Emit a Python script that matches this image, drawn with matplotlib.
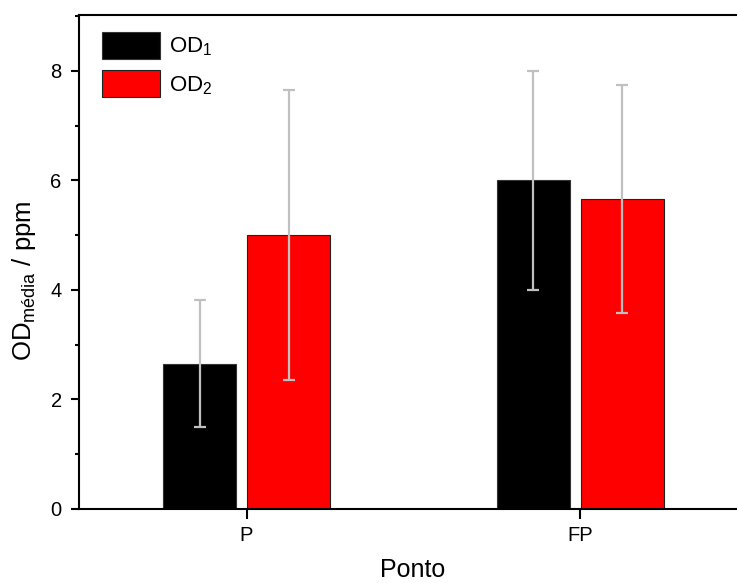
import matplotlib
matplotlib.use("Agg")
import matplotlib.pyplot as plt
from matplotlib.patches import Patch
from matplotlib.ticker import MultipleLocator
import numpy as np

plt.rcParams['font.family'] = ['Liberation Sans', 'DejaVu Sans']
plt.rcParams['mathtext.fontset'] = 'custom'
plt.rcParams['mathtext.rm'] = 'Liberation Sans'
plt.rcParams['mathtext.it'] = 'Liberation Sans:italic'

categories = ['P', 'FP']
od1 = [2.65, 6.0]
od1_err = [1.16, 2.0]
od2 = [5.0, 5.66]
od2_err = [2.65, 2.08]
series_labels = [r'$\mathregular{OD_1}$', r'$\mathregular{OD_2}$']

fig = plt.figure(figsize=(7.37, 5.83), dpi=100)
ax = fig.add_axes([79/737, 74/583, 668/737, 494/583])

x = np.arange(len(categories))
err_kw = dict(ecolor='#c0c0c0', elinewidth=1.6, capsize=4.5, capthick=1.6)
ax.bar(x - 0.14, od1, width=0.22, color='black', edgecolor='#333333', linewidth=0.8,
       yerr=od1_err, error_kw=err_kw, zorder=2)
ax.bar(x + 0.126, od2, width=0.25, color='#ff0000', edgecolor='#222222', linewidth=0.8,
       yerr=od2_err, error_kw=err_kw, zorder=2)

ax.set_xlim(-0.502, 1.5)
ax.set_ylim(0, 9.02)
ax.set_xticks(x)
ax.set_xticklabels(categories)
ax.yaxis.set_major_locator(MultipleLocator(2))
ax.yaxis.set_minor_locator(MultipleLocator(1))

for s in ['left', 'bottom', 'top']:
    ax.spines[s].set_linewidth(1.5)
ax.spines['right'].set_visible(False)
ax.tick_params(axis='y', which='major', length=6, width=1.5, labelsize=14.5, pad=6.5)
ax.tick_params(axis='y', which='minor', length=3, width=1.5)
ax.tick_params(axis='x', which='major', length=7, width=1.5, labelsize=14.5, pad=5.5)
ax.tick_params(axis='x', which='minor', bottom=False)

ax.set_xlabel('Ponto', fontsize=18)
ax.xaxis.set_label_coords(0.5, -0.1)
ax.xaxis.label.set_va('top')
ax.set_ylabel(r'$\mathregular{OD_{média}}$ / ppm', fontsize=18.5)
ax.yaxis.set_label_coords(-0.061, 0.4615)

handles = [Patch(facecolor='black', edgecolor='#333333', linewidth=0.8),
           Patch(facecolor='#ff0000', edgecolor='#222222', linewidth=0.8)]
ax.legend(handles, series_labels, loc='upper left', bbox_to_anchor=(23/668, 1 - 17/494),
          frameon=False, fontsize=16, borderpad=0, borderaxespad=0,
          handlelength=2.6, handleheight=1.5, handletextpad=0.4, labelspacing=0.5)

fig.savefig('out.png', dpi=100)
